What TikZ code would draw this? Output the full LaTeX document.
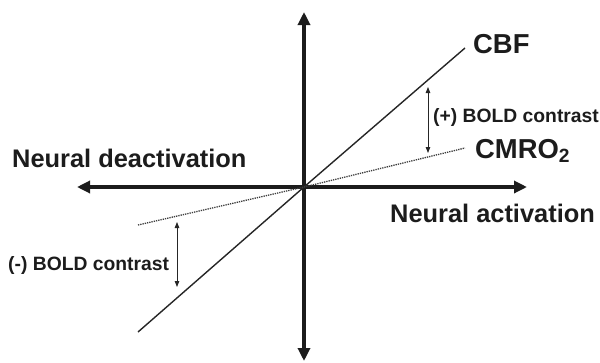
\documentclass[tikz,border=0pt]{standalone}
\usepackage{fontspec}
\setmainfont{Liberation Sans}
\setsansfont{Liberation Sans}
\usepackage{xcolor}
\definecolor{inkdark}{HTML}{1C1C1C}
\definecolor{inkline}{HTML}{262626}
\definecolor{inkdots}{HTML}{3C3C3C}
\usetikzlibrary{positioning, arrows.meta}
\tikzset{
  every node/.style={font=\sffamily\bfseries, text=inkdark, inner sep=0pt},
  axis/.style={
    line width=3.2pt, draw=inkdark,
    -{Triangle[length=13pt, width=12pt]}
  },
  cbfline/.style={line width=1.4pt, draw=inkline},
  cmroline/.style={line width=1.3pt, draw=inkdots, densely dotted},
  contrastarrow/.style={
    line width=0.8pt, draw=inkline,
    {Triangle[length=6pt, width=4.5pt]}-{Triangle[length=6pt, width=4.5pt]}
  },
  axislabel/.style={anchor=base west, font=\sffamily\bfseries\fontsize{25.4}{30}\selectfont},
  curvelabel/.style={anchor=base west, font=\sffamily\bfseries\fontsize{27.4}{32}\selectfont},
  contrastlabel/.style={anchor=base west, font=\sffamily\bfseries\fontsize{19.3}{23}\selectfont}
}

\begin{document}
\begin{tikzpicture}[x=1pt, y=-1pt]
\useasboundingbox (0,0) rectangle (600,362);

% Axes
\coordinate (O) at (304,187);
\coordinate (top) at (304,12);
\coordinate (bottom) at (304,361);
\coordinate (left) at (77,187);
\coordinate (right) at (527,187);
\draw[axis] (O) -- (top);
\draw[axis] (O) -- (bottom);
\draw[axis] (O) -- (left);
\draw[axis] (O) -- (right);

% Flow and oxygen consumption lines
\coordinate (cbfLo) at (138,332);
\coordinate (cbfHi) at (465,48);
\coordinate (cmroLo) at (138,225);
\coordinate (cmroHi) at (465,148);
\draw[cbfline] (cbfLo) -- (O) -- (cbfHi);
\draw[cmroline] (cmroLo) -- (O) -- (cmroHi);

% Labels
\node[axislabel] (deact) at (12,167) {Neural deactivation};
\node[axislabel] (act) at (390,222) {Neural activation};
\node[curvelabel] (cbf) at (473,53) {CBF};
\node[curvelabel] (cmro) at (475,158) {CMRO$_{\mathbf{2}}$};
\node[contrastlabel] (poslbl) at (433,122) {(+) BOLD contrast};
\node[contrastlabel] (neglbl) at (8,270) {(-) BOLD contrast};

% BOLD contrast arrows
\coordinate (posTop) at (428,87);
\coordinate (posBot) at (428,153);
\coordinate (negTop) at (177,222);
\coordinate (negBot) at (177,287);
\draw[contrastarrow] (posTop) -- (posBot);
\draw[contrastarrow] (negTop) -- (negBot);

\end{tikzpicture}
\end{document}
